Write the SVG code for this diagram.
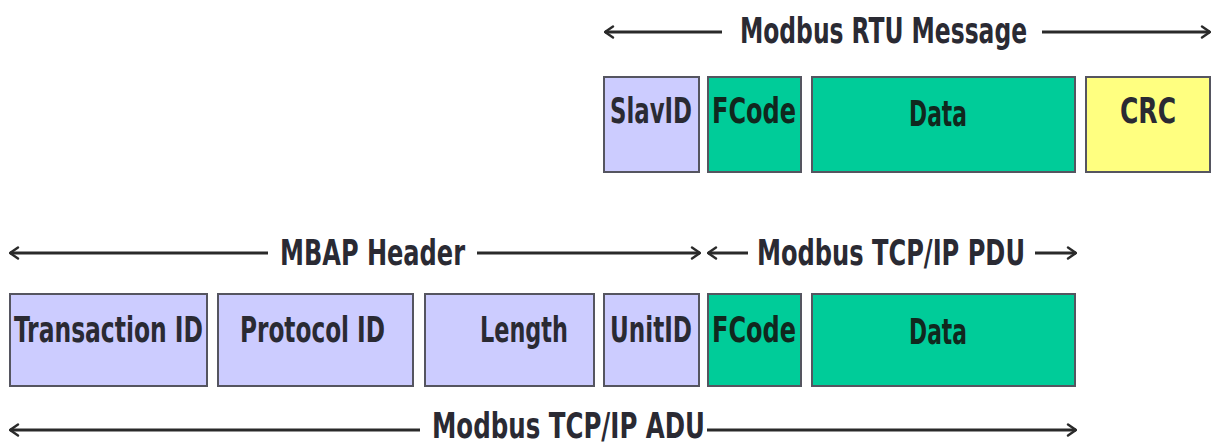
<svg xmlns="http://www.w3.org/2000/svg" width="1217" height="447" viewBox="0 0 1217 447">
  <defs>
    <marker id="head" viewBox="0 0 12 14" refX="11" refY="7" markerWidth="12" markerHeight="14" markerUnits="userSpaceOnUse" orient="auto-start-reverse">
      <path d="M3,1.5 L11,7 L3,12.5" fill="none" stroke="#2a2a2a" stroke-width="2.4" stroke-linecap="round" stroke-linejoin="round"/>
    </marker>
    <style>
      .lbl { font-family: "Liberation Sans Narrow", "DejaVu Sans Condensed", "Liberation Sans", sans-serif; font-weight: bold; fill: #2a2a33; }
      .span { font-size: 36px; }
      .cell { font-size: 35px; }
      .green-t { fill: #10281e; }
      .box { stroke: #555560; stroke-width: 2; }
      .lav { fill: #ccccff; }
      .grn { fill: #00cc99; }
      .yel { fill: #ffff80; }
      .dim { stroke: #2a2a2a; stroke-width: 2.8; fill: none; }
    </style>
  </defs>

  <!-- dimension lines -->
  <g id="connectors">
    <line class="dim" x1="605" y1="32" x2="722" y2="32" marker-start="url(#head)"/>
    <line class="dim" x1="1042" y1="32" x2="1210" y2="32" marker-end="url(#head)"/>

    <line class="dim" x1="10" y1="253" x2="268" y2="253" marker-start="url(#head)"/>
    <line class="dim" x1="477" y1="253" x2="700" y2="253" marker-end="url(#head)"/>

    <line class="dim" x1="708" y1="253" x2="748" y2="253" marker-start="url(#head)"/>
    <line class="dim" x1="1035" y1="253" x2="1076" y2="253" marker-end="url(#head)"/>

    <line class="dim" x1="10" y1="430" x2="420" y2="430" marker-start="url(#head)"/>
    <line class="dim" x1="707" y1="430" x2="1076" y2="430" marker-end="url(#head)"/>
  </g>

  <!-- span titles (condensed horizontally) -->
  <g id="titles">
    <text class="lbl span" transform="translate(740,43) scale(0.75,1)" textLength="382.7" lengthAdjust="spacingAndGlyphs">Modbus RTU Message</text>
    <text class="lbl span" transform="translate(280,265) scale(0.75,1)" textLength="246.7" lengthAdjust="spacingAndGlyphs">MBAP Header</text>
    <text class="lbl span" transform="translate(757,265) scale(0.75,1)" textLength="357.3" lengthAdjust="spacingAndGlyphs">Modbus TCP/IP PDU</text>
    <text class="lbl" font-size="33" transform="translate(432,438) scale(0.75,1.05)" textLength="364" lengthAdjust="spacingAndGlyphs">Modbus TCP/IP ADU</text>
  </g>

  <!-- RTU frame -->
  <g id="rtu-slaveid">
    <rect class="box lav" x="604" y="77" width="95" height="95"/>
    <text class="lbl cell" transform="translate(610,123) scale(0.75,1)" textLength="109.3" lengthAdjust="spacingAndGlyphs">SlavID</text>
  </g>
  <g id="rtu-fcode">
    <rect class="box grn" x="708" y="77" width="93" height="95"/>
    <text class="lbl cell green-t" transform="translate(712,123) scale(0.75,1)" textLength="112" lengthAdjust="spacingAndGlyphs">FCode</text>
  </g>
  <g id="rtu-data">
    <rect class="box grn" x="812" y="77" width="263" height="95"/>
    <text class="lbl cell green-t" text-anchor="middle" transform="translate(938,126) scale(0.75,1)" textLength="77.3" lengthAdjust="spacingAndGlyphs">Data</text>
  </g>
  <g id="rtu-crc">
    <rect class="box yel" x="1086" y="77" width="124" height="95"/>
    <text class="lbl cell" text-anchor="middle" transform="translate(1148,123) scale(0.75,1)" textLength="74.7" lengthAdjust="spacingAndGlyphs">CRC</text>
  </g>

  <!-- TCP/IP frame -->
  <g id="tcp-transaction">
    <rect class="box lav" x="10" y="294" width="197" height="92"/>
    <text class="lbl cell" transform="translate(14,342) scale(0.75,1)" textLength="252" lengthAdjust="spacingAndGlyphs">Transaction ID</text>
  </g>
  <g id="tcp-protocol">
    <rect class="box lav" x="218" y="294" width="195" height="92"/>
    <text class="lbl cell" transform="translate(240,342) scale(0.75,1)" textLength="193.3" lengthAdjust="spacingAndGlyphs">Protocol ID</text>
  </g>
  <g id="tcp-length">
    <rect class="box lav" x="425" y="294" width="169" height="92"/>
    <text class="lbl cell" transform="translate(480,342) scale(0.75,1)" textLength="117.3" lengthAdjust="spacingAndGlyphs">Length</text>
  </g>
  <g id="tcp-unitid">
    <rect class="box lav" x="604" y="294" width="95" height="92"/>
    <text class="lbl cell" transform="translate(610,342) scale(0.75,1)" textLength="109.3" lengthAdjust="spacingAndGlyphs">UnitID</text>
  </g>
  <g id="tcp-fcode">
    <rect class="box grn" x="708" y="294" width="93" height="92"/>
    <text class="lbl cell green-t" transform="translate(712,342) scale(0.75,1)" textLength="112" lengthAdjust="spacingAndGlyphs">FCode</text>
  </g>
  <g id="tcp-data">
    <rect class="box grn" x="812" y="294" width="263" height="92"/>
    <text class="lbl cell green-t" text-anchor="middle" transform="translate(938,344) scale(0.75,1)" textLength="77.3" lengthAdjust="spacingAndGlyphs">Data</text>
  </g>
</svg>
